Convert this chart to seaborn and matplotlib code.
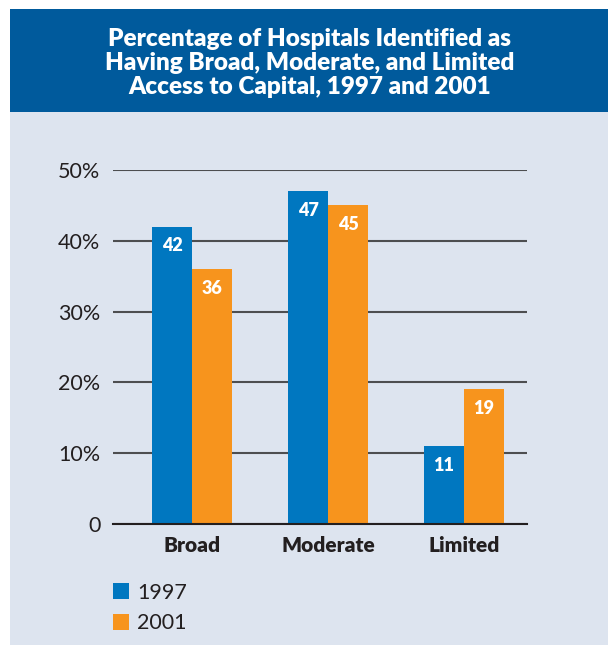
import seaborn as sns
import pandas as pd
import matplotlib
import matplotlib.pyplot as plt
from matplotlib.patches import Rectangle

categories = ["Broad", "Moderate", "Limited"]
years = ["1997", "2001"]
values_1997 = [42, 47, 11]
values_2001 = [36, 45, 19]
ytick_vals = [0, 10, 20, 30, 40, 50]
ytick_labels = ["0", "10%", "20%", "30%", "40%", "50%"]
title = "Percentage of Hospitals Identified as\nHaving Broad, Moderate, and Limited\nAccess to Capital, 1997 and 2001"

BLUE_HDR = "#005a9c"
BG = "#dde4ef"
C1997 = "#0077c0"
C2001 = "#f7941d"
TXT = "#231f20"

sns.set_style("white")
plt.rcParams['font.family'] = ['Lato', 'DejaVu Sans']

df = pd.DataFrame({
    "Access": categories * 2,
    "Year": [years[0]] * 3 + [years[1]] * 3,
    "Pct": values_1997 + values_2001,
})

fig = plt.figure(figsize=(6.08, 6.49), dpi=100)
fig.patch.set_facecolor("white")
# background panels
fig.patches.append(Rectangle((10/608, 1-645/649), 598/608, (645-112)/649,
                             transform=fig.transFigure, facecolor=BG, edgecolor="none", zorder=-5))
fig.patches.append(Rectangle((10/608, 1-112/649), 598/608, (112-9)/649,
                             transform=fig.transFigure, facecolor=BLUE_HDR, edgecolor="none", zorder=-5))
fig.text(310/608, 1-63/649, title, ha="center", va="center", color="white",
         fontsize=17.5, fontweight="heavy", linespacing=1.13)

ax = fig.add_axes([113/608, 1-524/649, 414/608, 354/649])
ax.set_facecolor("none")
sns.barplot(data=df, x="Access", y="Pct", hue="Year", palette=[C1997, C2001],
            saturation=1, width=0.588, ax=ax, errorbar=None, linewidth=0)

for cont in ax.containers:
    ax.bar_label(cont, padding=-20, color="white", fontweight="heavy", fontsize=13)

ax.set_xlim(-0.581, 2.463)
ax.set_ylim(0, 50)
ax.set_yticks(ytick_vals)
ax.set_yticklabels(ytick_labels)
ax.set_xlabel("")
ax.set_ylabel("")
ax.set_axisbelow(True)
ax.yaxis.grid(True, color="#4d4e50", linewidth=1.5)
for s in ["top", "right", "left"]:
    ax.spines[s].set_visible(False)
ax.spines["bottom"].set_color(TXT)
ax.spines["bottom"].set_linewidth(1.5)
ax.tick_params(axis="y", length=0, pad=9, labelsize=15.5, labelcolor=TXT)
ax.tick_params(axis="x", length=0, pad=9, labelsize=15, labelcolor=TXT)
for lbl in ax.get_xticklabels():
    lbl.set_fontweight("heavy")

handles, labels = ax.get_legend_handles_labels()
ax.legend(handles, labels, loc="upper left", bbox_to_anchor=(104/608, 1-574/649),
          bbox_transform=fig.transFigure, frameon=False, fontsize=15.5,
          borderaxespad=0, handlelength=0.75, handleheight=0.75, handletextpad=0.4,
          labelspacing=0.5, labelcolor=TXT)

fig.savefig("out.png", dpi=100)
